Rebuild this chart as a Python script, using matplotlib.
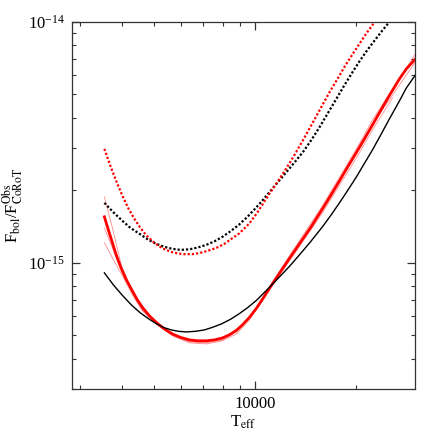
import numpy as np
import matplotlib
matplotlib.use("Agg")
import matplotlib.pyplot as plt
from matplotlib import ticker

plt.rcParams['font.family'] = 'serif'
plt.rcParams['font.serif'] = ['Liberation Serif', 'DejaVu Serif']
plt.rcParams['mathtext.fontset'] = 'stix'
plt.rcParams['axes.unicode_minus'] = False

# black solid
teff_bs = [3548, 3775, 4015, 4270, 4542, 4831, 5104, 5355, 5618, 5896, 6227,
           6625, 7047, 7443, 7918, 8424, 8960, 9467, 10070, 10563, 11160, 11871,
           12630, 13524, 14585, 15836, 16735, 17800, 18800, 20000, 21130, 22330,
           23590, 25080, 26870, 28180, 30000]
flux_bs = [9.09e-16, 8.10e-16, 7.33e-16, 6.69e-16, 6.20e-16, 5.83e-16, 5.56e-16,
           5.38e-16, 5.27e-16, 5.20e-16, 5.17e-16, 5.20e-16, 5.27e-16, 5.40e-16,
           5.58e-16, 5.83e-16, 6.16e-16, 6.51e-16, 6.99e-16, 7.47e-16, 8.07e-16,
           8.83e-16, 9.67e-16, 1.079e-15, 1.222e-15, 1.411e-15, 1.567e-15,
           1.774e-15, 1.990e-15, 2.275e-15, 2.588e-15, 2.944e-15, 3.381e-15,
           3.958e-15, 4.701e-15, 5.322e-15, 6.03e-15]

# red thick solid
teff_rs = [3548, 3646, 3749, 3852, 3979, 4126, 4299, 4449, 4605, 4831, 5104,
           5355, 5659, 5976, 6357, 6716, 7143, 7547, 7972, 8366, 8778, 9147,
           9597, 10070, 10563, 11160, 11871, 12630, 13524, 14585, 15836, 16735,
           17800, 18800, 20000, 21130, 22330, 23590, 25080, 26870, 28180, 30000]
flux_rs = [1.552e-15, 1.370e-15, 1.211e-15, 1.074e-15, 9.53e-16, 8.50e-16,
           7.65e-16, 7.02e-16, 6.54e-16, 6.03e-16, 5.61e-16, 5.32e-16, 5.07e-16,
           4.91e-16, 4.79e-16, 4.75e-16, 4.75e-16, 4.79e-16, 4.88e-16, 5.03e-16,
           5.25e-16, 5.53e-16, 5.94e-16, 6.48e-16, 7.16e-16, 8.07e-16, 9.18e-16,
           1.044e-15, 1.199e-15, 1.397e-15, 1.675e-15, 1.897e-15, 2.189e-15,
           2.490e-15, 2.874e-15, 3.270e-15, 3.738e-15, 4.273e-15, 4.955e-15,
           5.800e-15, 6.383e-15, 7.02e-15]

# thin red lines
teff_thin = [3548, 3749, 3988, 4299, 4605, 5104, 5659, 6357, 7143, 7972, 8778,
             9597, 11160, 12630, 15836, 20000, 22330]
flux_thin1 = [1.879e-15, 1.397e-15, 9.72e-16, 7.58e-16, 6.45e-16, 5.53e-16,
              4.98e-16, 4.66e-16, 4.61e-16, 4.75e-16, 5.07e-16, 5.80e-16,
              7.95e-16, 1.019e-15, 1.612e-15, 2.727e-15, 3.564e-15]
flux_thin2 = [1.397e-15, 1.154e-15, 9.26e-16, 7.51e-16, 6.38e-16, 5.56e-16,
              5.03e-16, 4.70e-16, 4.66e-16, 4.79e-16, 5.17e-16, 5.91e-16,
              8.18e-16, 1.069e-15, 1.724e-15, 2.972e-15, 3.921e-15]
flux_thin3 = [1.211e-15, 1.049e-15, 9.00e-16, 7.37e-16, 6.32e-16, 5.53e-16,
              5.03e-16, 4.75e-16, 4.70e-16, 4.84e-16, 5.22e-16, 5.91e-16,
              8.03e-16, 1.049e-15, 1.659e-15, 2.888e-15, 3.775e-15]
thin_end_teff = [25600, 30000, 30000]
thin_end_flux = [4.837e-15, 7.37e-15, 6.82e-15]

# black dotted
teff_bd = [3548, 3775, 4015, 4241, 4542, 4798, 5069, 5355, 5659, 5976, 6357,
           6716, 7143, 7547, 7972, 8424, 8960, 9467, 10000, 10563, 11160, 11790,
           12455, 13159, 13905, 14690, 15515, 16392, 17320, 18295, 19325, 20420,
           21570, 22790, 23910, 25600]
flux_bd = [1.774e-15, 1.620e-15, 1.494e-15, 1.397e-15, 1.313e-15, 1.246e-15,
           1.199e-15, 1.165e-15, 1.143e-15, 1.132e-15, 1.138e-15, 1.157e-15,
           1.188e-15, 1.228e-15, 1.282e-15, 1.351e-15, 1.445e-15, 1.552e-15,
           1.683e-15, 1.834e-15, 2.009e-15, 2.199e-15, 2.408e-15, 2.638e-15,
           2.902e-15, 3.239e-15, 3.650e-15, 4.153e-15, 4.724e-15, 5.375e-15,
           6.085e-15, 6.857e-15, 7.651e-15, 8.460e-15, 9.22e-15, 1.034e-14]

# red dotted
teff_rd = [3548, 3697, 3852, 4015, 4183, 4359, 4542, 4732, 5000, 5282, 5659,
           6059, 6491, 6811, 7193, 7651, 8083, 8482, 8960, 9597, 10139, 10710,
           11315, 11953, 12630, 13340, 14093, 14890, 15730, 16620, 17556, 18546,
           19592, 20697, 21570, 22630, 23100]
flux_rd = [2.972e-15, 2.527e-15, 2.179e-15, 1.897e-15, 1.683e-15, 1.522e-15,
           1.397e-15, 1.300e-15, 1.211e-15, 1.149e-15, 1.106e-15, 1.087e-15,
           1.087e-15, 1.098e-15, 1.121e-15, 1.154e-15, 1.199e-15, 1.258e-15,
           1.326e-15, 1.458e-15, 1.620e-15, 1.826e-15, 2.047e-15, 2.296e-15,
           2.588e-15, 2.944e-15, 3.365e-15, 3.865e-15, 4.440e-15, 5.099e-15,
           5.800e-15, 6.600e-15, 7.437e-15, 8.341e-15, 9.090e-15, 9.952e-15,
           1.034e-14]

fig = plt.figure(figsize=(4.36, 4.36), dpi=100)
ax = fig.add_axes([0.165, 0.108, 0.787, 0.842])

for fl, te, fe in zip([flux_thin1, flux_thin2, flux_thin3], thin_end_teff, thin_end_flux):
    ax.plot(teff_thin + [te], fl + [fe], color='red', lw=0.6, alpha=0.45)
ax.plot(teff_rs, flux_rs, color='red', lw=2.0)
ax.plot(teff_bs, flux_bs, color='black', lw=1.0)
ax.plot(teff_bd, flux_bd, color='black', lw=1.6, linestyle=(0, (1, 0.9)))
ax.plot(teff_rd, flux_rd, color='red', lw=1.6, linestyle=(0, (1, 0.9)))

ax.set_xscale('log')
ax.set_yscale('log')
ax.set_xlim(2840, 29900)
ax.set_ylim(3e-16, 1e-14)

ax.set_xticks([10000])
ax.set_xticklabels(['10000'])
ax.xaxis.set_minor_locator(ticker.LogLocator(base=10, subs=np.arange(2, 10)))
ax.xaxis.set_minor_formatter(ticker.NullFormatter())
ax.yaxis.set_major_locator(ticker.FixedLocator([1e-15, 1e-14]))
ax.yaxis.set_major_formatter(ticker.LogFormatterMathtext())
ax.yaxis.set_minor_locator(ticker.LogLocator(base=10, subs=np.arange(2, 10)))
ax.yaxis.set_minor_formatter(ticker.NullFormatter())

ax.tick_params(which='both', direction='in', top=True, right=True, color='#333333')
ax.tick_params(which='major', length=6, width=0.9, labelsize=12, pad=5)
ax.tick_params(which='minor', length=3, width=0.8)
for s in ax.spines.values():
    s.set_color('#333333')
    s.set_linewidth(0.9)

ax.set_xlabel(r'T$_\mathrm{eff}$', fontsize=12, labelpad=1)
ax.set_ylabel(r'F$_\mathrm{bol}$/F$^\mathrm{Obs}_\mathrm{CoRoT}$', fontsize=12, labelpad=2)

fig.savefig('out.png', dpi=100)
